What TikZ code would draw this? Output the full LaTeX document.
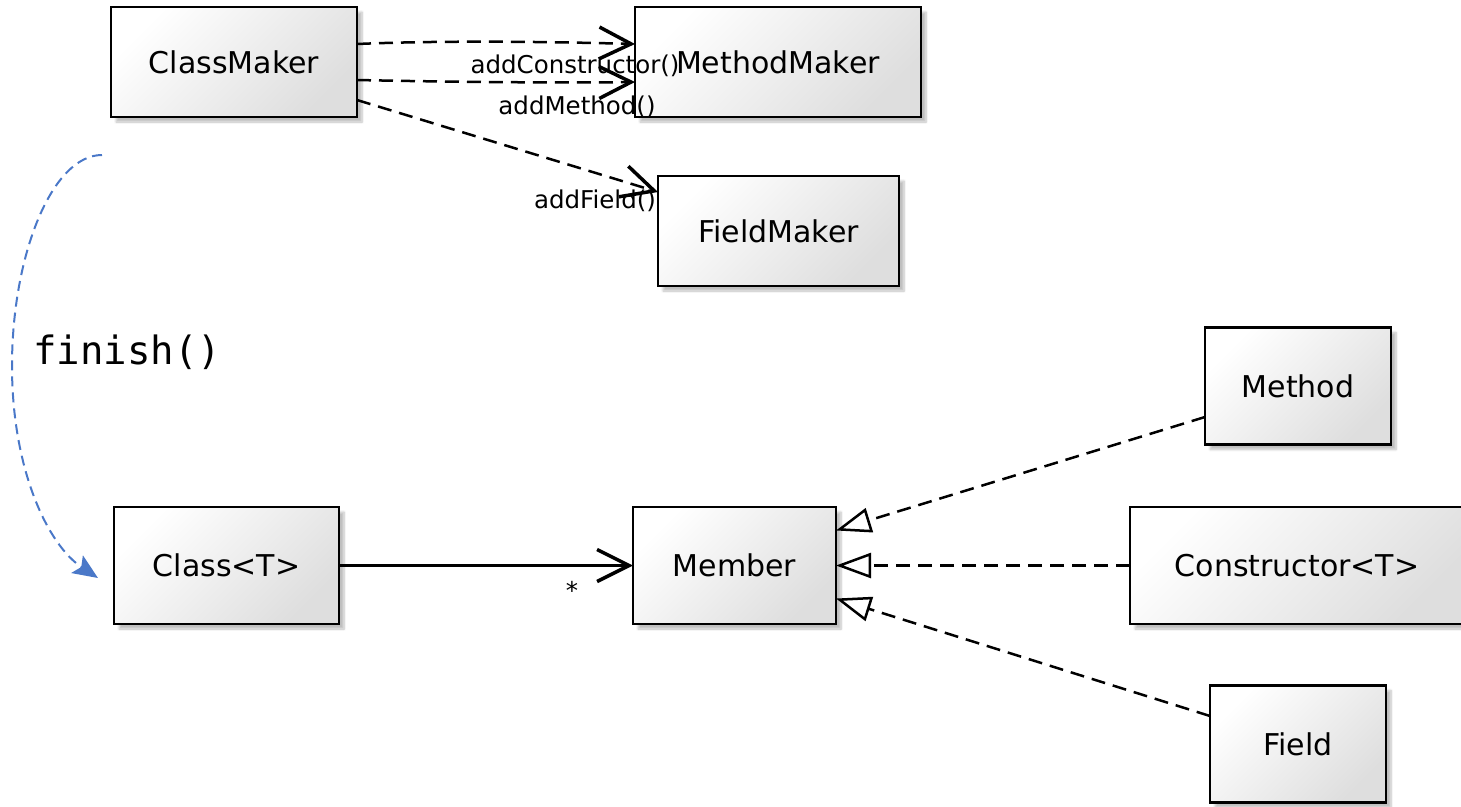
\documentclass[tikz,border=0pt]{standalone}
\usepackage{fontspec}
\setmainfont{DejaVu Sans}
\newfontfamily\codefont{DejaVu Sans Mono}
\usetikzlibrary{arrows.meta,shadows.blur,calc}

\definecolor{flowblue}{HTML}{4A78C8}

\begin{document}
\begin{tikzpicture}[x=1pt,y=-1pt,
  umlbox/.style={draw=black, line width=2.7pt, rectangle,
    top color=white, bottom color=black!13, shading angle=45,
    blur shadow={shadow xshift=5pt, shadow yshift=-5pt, shadow opacity=25, shadow blur steps=6},
    font=\fontsize{30}{36}\selectfont, inner sep=0pt, outer sep=0pt},
  vee/.style={-{Straight Barb[length=32pt,width=32pt,line width=3.5pt]}},
  dep/.style={line width=2.5pt, dash pattern=on 14pt off 8pt, vee},
  assoc/.style={line width=2.5pt, vee},
  realize/.style={line width=2.5pt, dash pattern=on 14pt off 8pt,
    -{Triangle[length=35pt,width=25pt,fill=white]}},
  flow/.style={flowblue, line width=2pt, dash pattern=on 10pt off 6pt,
    -{Stealth[length=25pt,width=21pt,inset=5pt]}},
  lbl/.style={font=\fontsize{24.5}{28}\selectfont, inner sep=0pt}
]
\useasboundingbox (0,0) rectangle (1461,806);

% classes
\node[umlbox, minimum width=246pt, minimum height=110pt] (cm) at (234,62) {ClassMaker};
\node[umlbox, minimum width=286pt, minimum height=110pt] (mm) at (778,62) {MethodMaker};
\node[umlbox, minimum width=241pt, minimum height=110pt] (fm) at (778.5,231) {FieldMaker};
\node[umlbox, minimum width=186pt, minimum height=117pt] (me) at (1298,386) {Method};
\node[umlbox, minimum width=225pt, minimum height=117pt] (cl) at (226.5,565.5) {Class<T>};
\node[umlbox, minimum width=203pt, minimum height=117pt] (mb) at (734.5,565.5) {Member};
\node[umlbox, minimum width=334pt, minimum height=117pt] (co) at (1297,565.5) {Constructor<T>};
\node[umlbox, minimum width=176pt, minimum height=117pt] (fi) at (1298,744) {Field};

% factory dependencies
\draw[dep] ([yshift=18pt]cm.east) .. controls (450,40) and (560,42) .. ([yshift=18pt]mm.west);
\draw[dep] ([yshift=-18pt]cm.east) .. controls (450,82) and (560,83) .. ([yshift=-20pt]mm.west);
\draw[dep] ([yshift=-38pt]cm.east) -- ([yshift=39pt]fm.west);

% association
\draw[assoc] (cl.east) -- (mb.west);

% realizations
\draw[realize] ([yshift=-31pt]me.west) -- ([yshift=35pt]mb.east);
\draw[realize] (co.west) -- (mb.east);
\draw[realize] ([yshift=28pt]fi.west) -- ([yshift=-33pt]mb.east);

% finish() transition
\coordinate (fstart) at (102,155);
\coordinate (fend) at ([xshift=-16pt,yshift=-12.5pt]cl.west);
\draw[flow] (fstart) .. controls (52,155) and (12,255) .. (12,366)
  .. controls (12,470) and (48,545) .. (fend);

% labels
\node[lbl] at (575,66) {addConstructor()};
\node[lbl] at (577,107) {addMethod()};
\node[lbl] at (595,201) {addField()};
\node[lbl] at (572,590) {*};
\node[anchor=west, inner sep=0pt, font=\codefont\fontsize{39}{44}\selectfont] at (33,352) {finish()};
\end{tikzpicture}
\end{document}
